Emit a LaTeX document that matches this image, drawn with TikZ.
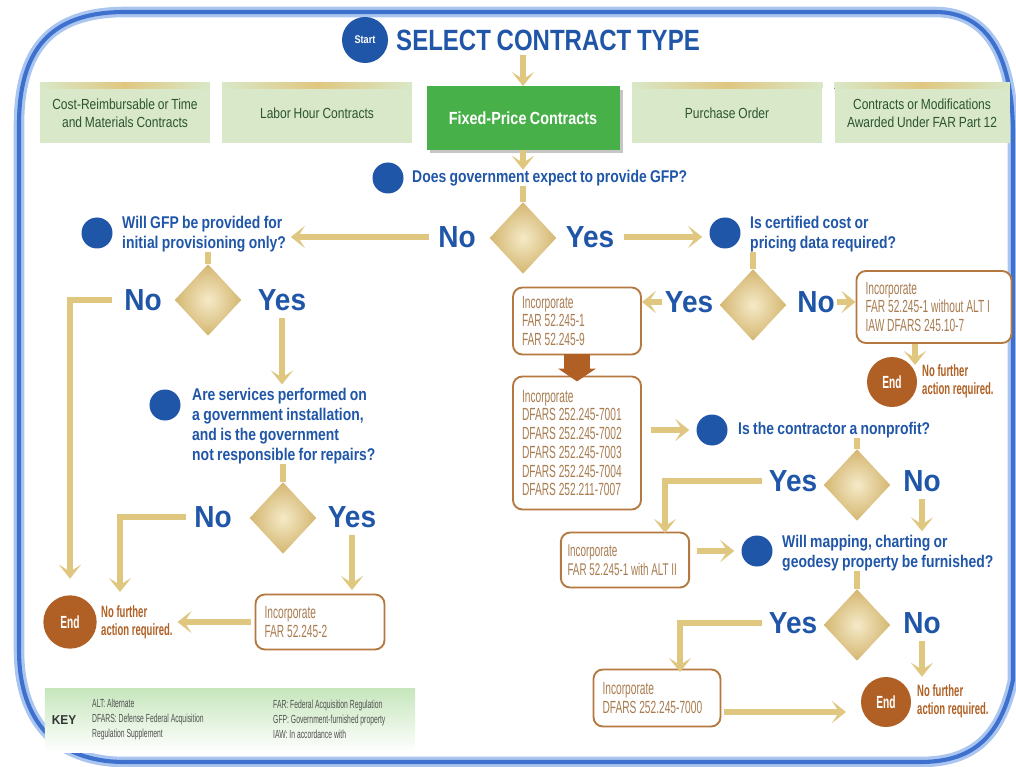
\documentclass[tikz,border=0pt]{standalone}
\usepackage{fontspec}
\setmainfont[FakeStretch=0.82, WordSpace=0.85]{Liberation Sans}
\newfontfamily\narrowfont[FakeStretch=0.58]{Liberation Sans}
\newfontfamily\widefont[FakeStretch=0.92]{Liberation Sans}
\usepackage{tikz}
\usetikzlibrary{shapes.geometric,arrows.meta,shadows}
\definecolor{qblue}{RGB}{32,86,168}
\definecolor{frameblue}{RGB}{62,112,205}
\definecolor{glowblue}{RGB}{170,198,240}
\definecolor{gold}{RGB}{224,199,128}
\definecolor{palegold}{RGB}{245,234,200}
\definecolor{deepgold}{RGB}{212,182,112}
\definecolor{endbrown}{RGB}{176,96,36}
\definecolor{boxbrown}{RGB}{180,120,64}
\definecolor{boxtext}{RGB}{168,124,80}
\definecolor{hdrgreen}{RGB}{216,232,200}
\definecolor{hdrtext}{RGB}{44,84,48}
\definecolor{fpgreen}{RGB}{72,176,72}
\definecolor{keygreen}{RGB}{198,230,188}
\definecolor{keytext}{RGB}{80,80,80}
\tikzset{
  font={\fontsize{14.5pt}{17pt}\selectfont},
  arr/.style={draw=gold, line width=5pt, -{Stealth[length=12pt,width=19pt,inset=6pt]}},
  link/.style={draw=gold, line width=5pt},
  blockarr/.style={draw=endbrown, line width=22pt, -{Triangle[length=11pt,width=32pt]}},
  frameline/.style={draw=frameblue, line width=3.5pt, preaction={draw=glowblue, line width=9pt}},
  startc/.style={circle, fill=qblue, minimum size=1.38cm, text=white, font=\bfseries\fontsize{9.5pt}{11pt}\selectfont},
  titletxt/.style={text=qblue, font=\bfseries\fontsize{25pt}{28pt}\selectfont},
  hdr/.style={fill=hdrgreen, minimum height=1.8cm, align=center, text=hdrtext, font=\fontsize{12.5pt}{15pt}\selectfont},
  fpbox/.style={fill=fpgreen, minimum height=1.9cm, text=white, font=\bfseries\fontsize{15pt}{17pt}\selectfont,
    drop shadow={shadow xshift=3pt, shadow yshift=-3pt, opacity=0.45}},
  strip/.style={left color=hdrgreen, right color=hdrgreen, middle color=gold},
  dot/.style={circle, fill=qblue, minimum size=0.93cm},
  ques/.style={anchor=west, align=left, text=qblue, font=\bfseries\fontsize{14.5pt}{17pt}\selectfont},
  yesno/.style={text=qblue, font=\widefont\bfseries\fontsize{26pt}{28pt}\selectfont},
  dec/.style={diamond, minimum width=2cm, minimum height=2.15cm, inner color=palegold, outer color=deepgold},
  endc/.style={circle, fill=endbrown, minimum size=1.6cm, text=white, font=\narrowfont\bfseries\fontsize{15pt}{17pt}\selectfont},
  endtxt/.style={anchor=west, align=left, text=endbrown, font=\narrowfont\bfseries\fontsize{14pt}{15pt}\selectfont},
  incbox/.style={draw=boxbrown, line width=1.6pt, rounded corners=8pt, fill=white, align=flush left, text=boxtext,
    inner xsep=0.27cm, font=\narrowfont\fontsize{15pt}{16pt}\selectfont},
  keybox/.style={top color=keygreen, bottom color=white, minimum width=11.1cm, minimum height=1.92cm},
  keyhd/.style={text=black!80, font=\widefont\bfseries\fontsize{11pt}{13pt}\selectfont},
  keytxt/.style={anchor=west, align=left, text=keytext, font=\narrowfont\fontsize{10pt}{12.8pt}\selectfont}
}
\begin{document}
\begin{tikzpicture}[x=0.03cm, y=0.03cm]
\tikzstyle{every node}+=[inner sep=0pt]
\useasboundingbox (0,0) rectangle (1016,-767);
\draw[frameline] (19,-650) -- (19,-125) .. controls (19,-50) and (50,-12) .. (125,-12) -- (935,-12)
  .. controls (990,-12) and (1013,-60) .. (1013,-135) -- (1013,-680)
  .. controls (1000,-740) and (970,-762) .. (920,-762) -- (125,-762)
  .. controls (55,-762) and (19,-720) .. (19,-650) -- cycle;
\node[startc] (start) at (365,-40) {Start};
\node[titletxt, anchor=west] (title) at (396,-40) {SELECT CONTRACT TYPE};
\node[hdr, minimum width=5.1cm] (hdr1) at (125,-113) {Cost-Reimbursable or Time\\and Materials Contracts};
\node[hdr, minimum width=5.7cm] (hdr2) at (317,-113) {Labor Hour Contracts};
\node[fpbox, minimum width=5.79cm] (hdr3) at (523,-118) {Fixed-Price Contracts};
\node[hdr, minimum width=5.7cm] (hdr4) at (727,-113) {Purchase Order};
\node[hdr, minimum width=5.25cm] (hdr5) at (922,-113) {Contracts or Modifications\\Awarded Under FAR Part 12};
\foreach \h in {hdr1,hdr2,hdr4,hdr5}
  \fill[strip] (\h.north west) rectangle ([yshift=-5pt]\h.north east);
\node[dot] (q1dot) at (388,-178) {};
\node[ques] (q1) at (412,-178) {Does government expect to provide GFP?};
\node[dec] (d1) at (523,-238) {};
\node[yesno] (no1) at (457,-237) {No};
\node[yesno] (yes1) at (590,-237) {Yes};
\node[dot] (q2dot) at (97,-233) {};
\node[ques] (q2) at (122,-234) {Will GFP be provided for\\initial provisioning only?};
\node[dec] (d2) at (208,-300) {};
\node[yesno] (no2) at (143,-300) {No};
\node[yesno] (yes2) at (282,-300) {Yes};
\node[dot] (q3dot) at (165,-405) {};
\node[ques, anchor=north west] (q3) at (192,-388) {Are services performed on\\a government installation,\\and is the government\\not responsible for repairs?};
\node[dec] (d3) at (283,-518) {};
\node[yesno] (no3) at (213,-517) {No};
\node[yesno] (yes3) at (352,-517) {Yes};
\node[endc] (end1) at (70,-622) {End};
\node[endtxt] (end1txt) at (101,-622) {No further\\action required.};
\node[incbox, text width=3.33cm, minimum height=1.65cm] (boxF) at (320,-622) {Incorporate\\FAR 52.245-2};
\node[keybox] (key) at (230,-720) {};
\node[keyhd] (keyhd) at (64,-720) {KEY};
\node[keytxt] (keyl) at (92,-719) {ALT: Alternate\\DFARS: Defense Federal Acquisition\\Regulation Supplement};
\node[keytxt] (keyr) at (273,-719) {FAR: Federal Acquisition Regulation\\GFP: Government-furnished property\\IAW: In accordance with};
\node[dot] (q4dot) at (725,-233) {};
\node[ques] (q4) at (750,-234) {Is certified cost or\\pricing data required?};
\node[dec] (d4) at (753,-305) {};
\node[yesno] (yes4) at (689,-302) {Yes};
\node[yesno] (no4) at (816,-302) {No};
\node[incbox, text width=3.3cm, minimum height=2.01cm] (boxA) at (577,-321) {Incorporate\\FAR 52.245-1\\FAR 52.245-9};
\node[incbox, text width=4.11cm, minimum height=2.16cm] (boxB) at (934,-307) {Incorporate\\FAR 52.245-1 without ALT I\\IAW DFARS 245.10-7};
\node[endc, minimum size=1.5cm] (end2) at (892,-382) {End};
\node[endtxt] (end2txt) at (922,-381) {No further\\action required.};
\node[incbox, text width=3.3cm, minimum height=3.99cm] (boxC) at (577,-443) {Incorporate\\DFARS 252.245-7001\\DFARS 252.245-7002\\DFARS 252.245-7003\\DFARS 252.245-7004\\DFARS 252.211-7007};
\node[dot] (q5dot) at (712,-430) {};
\node[ques] (q5) at (738,-430) {Is the contractor a nonprofit?};
\node[dec] (d5) at (857,-485) {};
\node[yesno] (yes5) at (793,-481) {Yes};
\node[yesno] (no5) at (922,-481) {No};
\node[incbox, text width=3.45cm, inner xsep=0.2cm, minimum height=1.65cm, font=\narrowfont\fontsize{14.5pt}{16pt}\selectfont] (boxD) at (625,-560) {Incorporate\\FAR 52.245-1 with ALT II};
\node[dot] (q6dot) at (757,-551) {};
\node[ques] (q6) at (782,-553) {Will mapping, charting or\\geodesy property be furnished?};
\node[dec] (d6) at (857,-625) {};
\node[yesno] (yes6) at (793,-623) {Yes};
\node[yesno] (no6) at (922,-623) {No};
\node[incbox, text width=3.27cm, minimum height=1.71cm] (boxE) at (657,-698) {Incorporate\\DFARS 252.245-7000};
\node[endc, minimum size=1.5cm] (end3) at (886,-702) {End};
\node[endtxt] (end3txt) at (917,-701) {No further\\action required.};
\coordinate (n3end) at (120,-592);
\coordinate (y5end) at (665,-533);
\coordinate (y6end) at (680,-672);
\coordinate (b2end) at (915,-365);
\coordinate (e3in) at (846,-712);
\draw[arr, shorten <=4pt] (title.south -| hdr3.north) -- (hdr3.north);
\draw[arr] (hdr3.south) -- (hdr3.south |- q1.north);
\draw[link] (q1.south -| d1.north) -- (d1.north);
\draw[arr, shorten <=8pt, shorten >=4pt] (no1.west) -- (no1.west -| q2.east);
\draw[arr, shorten <=8pt, shorten >=6pt] (yes1.east) -- (yes1.east -| q4dot.west);
\draw[link] (q2.south -| d2.north) -- (d2.north);
\draw[arr, shorten <=10pt, shorten >=14pt] (no2.west) -| (end1.north);
\draw[arr, shorten <=6pt, shorten >=3pt] (yes2.south) -- (yes2.south |- q3.north);
\draw[link] (q3.south -| d3.north) -- (d3.north);
\draw[arr, shorten <=7pt] (no3.west) -| (n3end);
\draw[arr, shorten <=6pt, shorten >=3pt] (yes3.south) -- (yes3.south |- boxF.north);
\draw[arr, shorten <=3pt, shorten >=4pt] (boxF.west) -- (boxF.west -| end1txt.east);
\draw[link] (q4.south -| d4.north) -- (d4.north);
\draw[arr, shorten <=2pt] (yes4.west) -- (yes4.west -| boxA.east);
\draw[arr, shorten <=2pt] (no4.east) -- (no4.east -| boxB.west);
\draw[arr] (b2end |- boxB.south) -- (b2end);
\draw[blockarr, shorten <=-1pt, shorten >=-5pt] (boxA.south) -- (boxC.north);
\draw[arr, shorten <=8pt, shorten >=6pt] (q5dot.west -| boxC.east) -- (q5dot.west);
\draw[link] (q5.south -| d5.north) -- (d5.north);
\draw[arr, shorten <=6pt] (yes5.west) -| (y5end);
\draw[arr, shorten <=6pt, shorten >=3pt] (no5.south) -- (no5.south |- q6.north);
\draw[arr, shorten <=6pt, shorten >=6pt] (q6dot.west -| boxD.east) -- (q6dot.west);
\draw[link] (q6.south -| d6.north) -- (d6.north);
\draw[arr, shorten <=6pt] (yes6.west) -| (y6end);
\draw[arr, shorten <=6pt] (no6.south) -- (no6.south |- end3.north);
\draw[arr, shorten <=2pt] (boxE.east |- e3in) -- (e3in);
\end{tikzpicture}
\end{document}
